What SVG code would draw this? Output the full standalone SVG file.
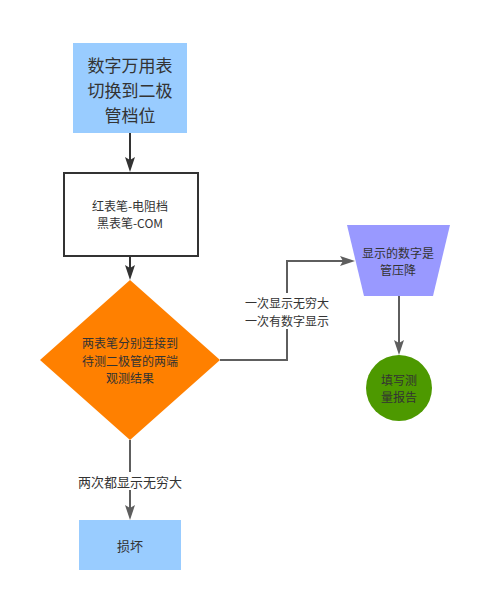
<svg xmlns="http://www.w3.org/2000/svg" width="486" height="612" viewBox="0 0 486 612">
<style>
text{font-family:"Noto Sans CJK SC","Noto Sans",sans-serif;fill:#333;text-anchor:middle;dominant-baseline:central;font-size:13px}
.m{font-size:12px}
.big{font-size:17px}
.c1{fill:none;stroke:#333;stroke-width:2}
.c2{fill:none;stroke:#5e5e5e;stroke-width:2}
</style>
<defs>
<marker id="a1" viewBox="0 0 15 10" refX="3" refY="5" markerWidth="15" markerHeight="10" markerUnits="userSpaceOnUse" orient="auto"><path d="M0,0 L15,5 L0,10 L3,5 Z" fill="#333"/></marker>
<marker id="a2" viewBox="0 0 15 10" refX="3" refY="5" markerWidth="15" markerHeight="10" markerUnits="userSpaceOnUse" orient="auto"><path d="M0,0 L15,5 L0,10 L3,5 Z" fill="#5e5e5e"/></marker>
</defs>
<rect width="486" height="612" fill="#fff"/>
<g id="connectors">
<path class="c1" d="M130,133 V160" marker-end="url(#a1)"/>
<path class="c1" d="M130,256 V268" marker-end="url(#a1)"/>
<path class="c2" d="M220,360 H287 V261 H343" marker-end="url(#a2)"/>
<path class="c2" d="M399,296 V343" marker-end="url(#a2)"/>
<path class="c2" d="M130,440 V508" marker-end="url(#a2)"/>
<rect x="241" y="293" width="92" height="36" fill="#fff"/>
<text class="m" x="287" y="302.5">一次显示无穷大</text>
<text class="m" x="287" y="320">一次有数字显示</text>
<rect x="77" y="472" width="106" height="18" fill="#fff"/>
<text x="130" y="481">两次都显示无穷大</text>
</g>
<g id="n1">
<rect x="73" y="43" width="114" height="90" fill="#99ccff"/>
<text class="big" x="130" y="64">数字万用表</text>
<text class="big" x="130" y="89">切换到二极</text>
<text class="big" x="130" y="114">管档位</text>
</g>
<g id="n2">
<rect x="64" y="173" width="134" height="83" fill="#fff" stroke="#333" stroke-width="2"/>
<text class="m" x="130" y="205">红表笔-电阻档</text>
<text class="m" x="130" y="222.5">黑表笔-COM</text>
</g>
<g id="n3">
<polygon points="130,280 220,360 130,440 40,360" fill="#ff8000"/>
<text class="m" x="130" y="342.5">两表笔分别连接到</text>
<text class="m" x="130" y="360">待测二极管的两端</text>
<text class="m" x="130" y="377.5">观测结果</text>
</g>
<g id="n4">
<polygon points="347,225 450,225 433,296 364,296" fill="#9999ff"/>
<text class="m" x="398" y="252">显示的数字是</text>
<text class="m" x="398" y="269.5">管压降</text>
</g>
<g id="n5">
<circle cx="399" cy="388" r="33" fill="#4d9900"/>
<text class="m" x="399" y="379">填写测</text>
<text class="m" x="399" y="396.5">量报告</text>
</g>
<g id="n6">
<rect x="79" y="520" width="102" height="50" fill="#99ccff"/>
<text x="130" y="545">损坏</text>
</g>
</svg>
